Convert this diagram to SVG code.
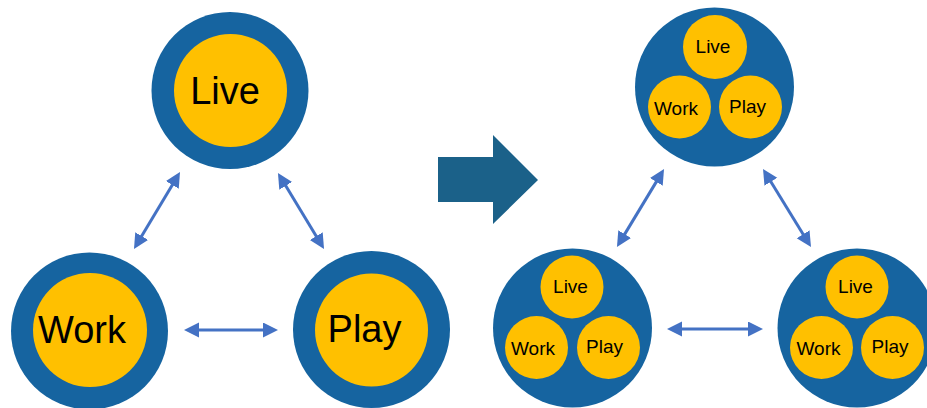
<svg xmlns="http://www.w3.org/2000/svg" width="927" height="408" viewBox="0 0 927 408">
<style>
.outer{fill:#1664A0}
.inner{fill:#FFC000}
.big{font-family:"Liberation Sans",Arial,sans-serif;font-size:38px;fill:#000;text-anchor:middle}
.sm{font-family:"Liberation Sans",Arial,sans-serif;font-size:19px;fill:#000;text-anchor:middle}
.con{stroke:#4472C4;stroke-width:3;fill:none;marker-start:url(#ah);marker-end:url(#ah)}
</style>
<defs>
<marker id="ah" markerUnits="userSpaceOnUse" markerWidth="16" markerHeight="16" viewBox="0 0 16 16" refX="7" refY="7.5" orient="auto-start-reverse">
<path d="M0,0 L15,7.5 L0,15 z" fill="#4472C4"/>
</marker>
</defs>
<rect width="927" height="408" fill="#fff"/>
<g id="connectors">
<line class="con" x1="175.9" y1="178.9" x2="138.1" y2="242.1"/>
<line class="con" x1="282.1" y1="179.8" x2="319.9" y2="242.2"/>
<line class="con" x1="192" y1="330" x2="270" y2="330"/>
<line class="con" x1="659.9" y1="175.9" x2="621.1" y2="240.1"/>
<line class="con" x1="767.2" y1="175.8" x2="806.8" y2="240.2"/>
<line class="con" x1="675" y1="329" x2="755" y2="329"/>
</g>
<g id="big-arrow">
<path d="M438,157 L493,157 L493,135 L538,180 L493,224 L493,202 L438,202 z" fill="#1B6189"/>
</g>
<g id="live">
<circle class="outer" cx="230" cy="90.5" r="78.5"/>
<circle class="inner" cx="230.5" cy="90.5" r="56.5"/>
<text class="big" x="225" y="104">Live</text>
</g>
<g id="work">
<circle class="outer" cx="89.5" cy="331" r="78.5"/>
<circle class="inner" cx="90" cy="330" r="57"/>
<text class="big" x="82" y="343">Work</text>
</g>
<g id="play">
<circle class="outer" cx="371.5" cy="329.5" r="78.5"/>
<circle class="inner" cx="371.5" cy="330" r="56.5"/>
<text class="big" x="364.5" y="342">Play</text>
</g>
<g id="combo-top">
<circle class="outer" cx="714.5" cy="87" r="79.5"/>
<circle class="inner" cx="715" cy="47" r="32"/>
<circle class="inner" cx="679.5" cy="107" r="31.5"/>
<circle class="inner" cx="750.5" cy="107" r="31.5"/>
<text class="sm" x="713" y="53">Live</text>
<text class="sm" x="676" y="115">Work</text>
<text class="sm" x="747.5" y="113">Play</text>
</g>
<g id="combo-left">
<circle class="outer" cx="572.5" cy="328" r="79.5"/>
<circle class="inner" cx="572" cy="287" r="31.5"/>
<circle class="inner" cx="536.5" cy="347.5" r="31.5"/>
<circle class="inner" cx="608.5" cy="347.5" r="31.5"/>
<text class="sm" x="570.5" y="293">Live</text>
<text class="sm" x="533" y="355">Work</text>
<text class="sm" x="604.5" y="353">Play</text>
</g>
<g id="combo-right">
<circle class="outer" cx="857" cy="328" r="79.5"/>
<circle class="inner" cx="857" cy="287" r="31.5"/>
<circle class="inner" cx="821.5" cy="347.5" r="31.5"/>
<circle class="inner" cx="892.5" cy="347.5" r="31.5"/>
<text class="sm" x="855.5" y="293">Live</text>
<text class="sm" x="818.5" y="355">Work</text>
<text class="sm" x="890" y="353">Play</text>
</g>
</svg>
